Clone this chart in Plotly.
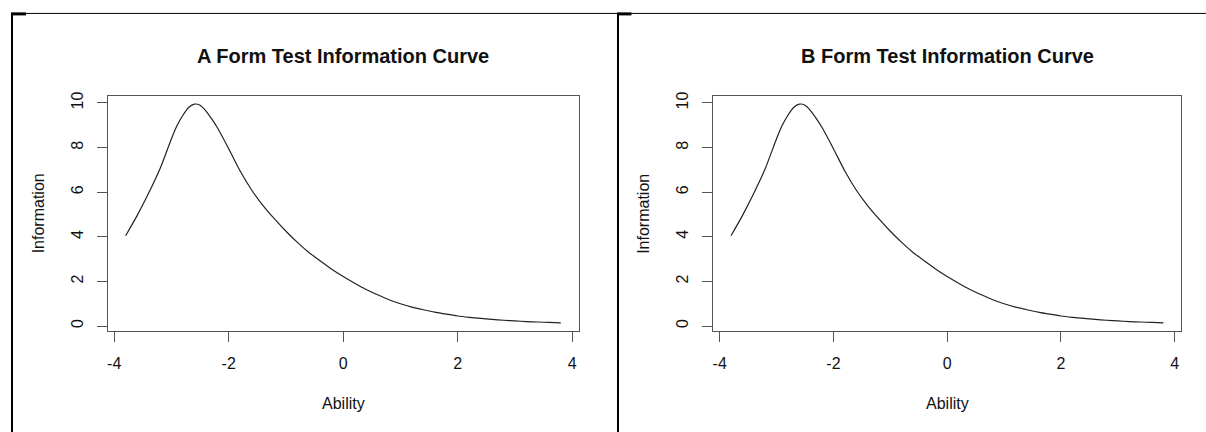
import plotly.graph_objects as go

# ---- data ----
ability = [-3.8, -3.6, -3.4, -3.2, -3.0, -2.9, -2.8, -2.7, -2.6, -2.5, -2.4, -2.3,
           -2.2, -2.0, -1.8, -1.6, -1.4, -1.2, -1.0, -0.8, -0.6, -0.4, -0.2, 0.0,
           0.2, 0.4, 0.6, 0.8, 1.0, 1.2, 1.4, 1.6, 1.8, 2.0, 2.2, 2.4, 2.6, 2.8,
           3.0, 3.2, 3.4, 3.6, 3.8]
info_a = [4.05, 4.95, 5.95, 7.05, 8.4, 9.0, 9.45, 9.8, 9.95, 9.9, 9.65, 9.3,
          8.9, 7.95, 6.95, 6.1, 5.4, 4.8, 4.25, 3.75, 3.3, 2.92, 2.55, 2.22,
          1.92, 1.64, 1.4, 1.18, 1.0, 0.85, 0.73, 0.62, 0.53, 0.45, 0.39, 0.34, 0.3, 0.26,
          0.23, 0.2, 0.18, 0.16, 0.14]
info_b = [4.05, 4.95, 5.95, 7.05, 8.4, 9.0, 9.45, 9.8, 9.95, 9.9, 9.65, 9.3,
          8.9, 7.95, 6.95, 6.1, 5.4, 4.8, 4.25, 3.75, 3.3, 2.92, 2.55, 2.22,
          1.92, 1.64, 1.4, 1.18, 1.0, 0.85, 0.73, 0.62, 0.53, 0.45, 0.39, 0.34, 0.3, 0.26,
          0.23, 0.2, 0.18, 0.16, 0.14]
titles = ["A Form Test Information Curve", "B Form Test Information Curve"]
x_ticks = [-4, -2, 0, 2, 4]
x_ticktext = ["-4", "-2", "0", "2", "4"]
y_ticks = [0, 2, 4, 6, 8, 10]
y_ticktext = ["0", "2", "4", "6", "8", "10"]
x_label = "Ability"
y_label = "Information"

W, H = 1206, 432
FONT = "Liberation Sans, Arial, sans-serif"
INK = "#111111"
BOX = "#555555"

def px(x):
    return x / W

def py(y):
    return 1 - y / H

panels = [
    dict(left=107, right=578, top=92.7, bottom=330, data=info_a, title=titles[0]),
    dict(left=713, right=1181, top=92.7, bottom=330, data=info_b, title=titles[1]),
]

fig = go.Figure()
annotations = []
for i, p in enumerate(panels):
    sfx = "" if i == 0 else str(i + 1)
    fig.add_trace(go.Scatter(
        x=ability, y=p["data"], mode="lines",
        line=dict(color="#222222", width=1.2, shape="spline", smoothing=0.6),
        xaxis="x" + sfx, yaxis="y" + sfx, showlegend=False, hoverinfo="x+y"))
    axis_common = dict(
        showgrid=False, zeroline=False, showline=True, mirror=True,
        linecolor=BOX, linewidth=1, ticks="outside", ticklen=10, tickwidth=1,
        tickcolor=BOX, tickfont=dict(family=FONT, size=16, color=INK),
        ticklabelstandoff=8,
    )
    fig.update_layout(**{
        "xaxis" + sfx: dict(axis_common, domain=[px(p["left"]), px(p["right"])],
                            range=[-4.11, 4.11], tickvals=x_ticks, ticktext=x_ticktext,
                            anchor="y" + sfx),
        "yaxis" + sfx: dict(axis_common, domain=[py(p["bottom"]), py(p["top"])],
                            range=[-0.22, 10.32], tickvals=y_ticks, ticktext=y_ticktext,
                            tickangle=-90, anchor="x" + sfx),
    })
    cx = (p["left"] + p["right"]) / 2
    annotations.append(dict(text="<b>" + p["title"] + "</b>", x=px(cx), y=py(52),
                            xref="paper", yref="paper", showarrow=False,
                            xanchor="center", yanchor="middle",
                            font=dict(family=FONT, size=20, color="#111111")))
    annotations.append(dict(text=x_label, x=px(cx), y=py(403), xref="paper", yref="paper",
                            showarrow=False, xanchor="center", yanchor="middle",
                            font=dict(family=FONT, size=16, color=INK)))
    annotations.append(dict(text=y_label, x=px(p["left"] - 70), y=py((p["top"] + p["bottom"]) / 2),
                            xref="paper", yref="paper", showarrow=False, textangle=-90,
                            xanchor="center", yanchor="middle",
                            font=dict(family=FONT, size=16, color=INK)))

# outer frame lines (document table borders)
shapes = [
    dict(type="line", xref="paper", yref="paper", x0=px(10), x1=1, y0=py(9.5), y1=py(9.5),
         line=dict(color="black", width=1)),
    dict(type="line", xref="paper", yref="paper", x0=px(11), x1=px(11), y0=py(9.5), y1=0,
         line=dict(color="black", width=2)),
    dict(type="line", xref="paper", yref="paper", x0=px(617.5), x1=px(617.5), y0=py(9.5), y1=0,
         line=dict(color="black", width=2)),
    dict(type="line", xref="paper", yref="paper", x0=px(10), x1=px(25), y0=py(10), y1=py(10),
         line=dict(color="black", width=3)),
    dict(type="line", xref="paper", yref="paper", x0=px(616.5), x1=px(631), y0=py(10), y1=py(10),
         line=dict(color="black", width=3)),
]

fig.update_layout(
    width=W, height=H, margin=dict(l=0, r=0, t=0, b=0),
    paper_bgcolor="white", plot_bgcolor="white",
    annotations=annotations, shapes=shapes,
    font=dict(family=FONT, color=INK),
)

fig.write_html("out.html", config={"displayModeBar": False},
               post_script="document.body.style.margin='0';document.body.style.overflow='hidden';")
